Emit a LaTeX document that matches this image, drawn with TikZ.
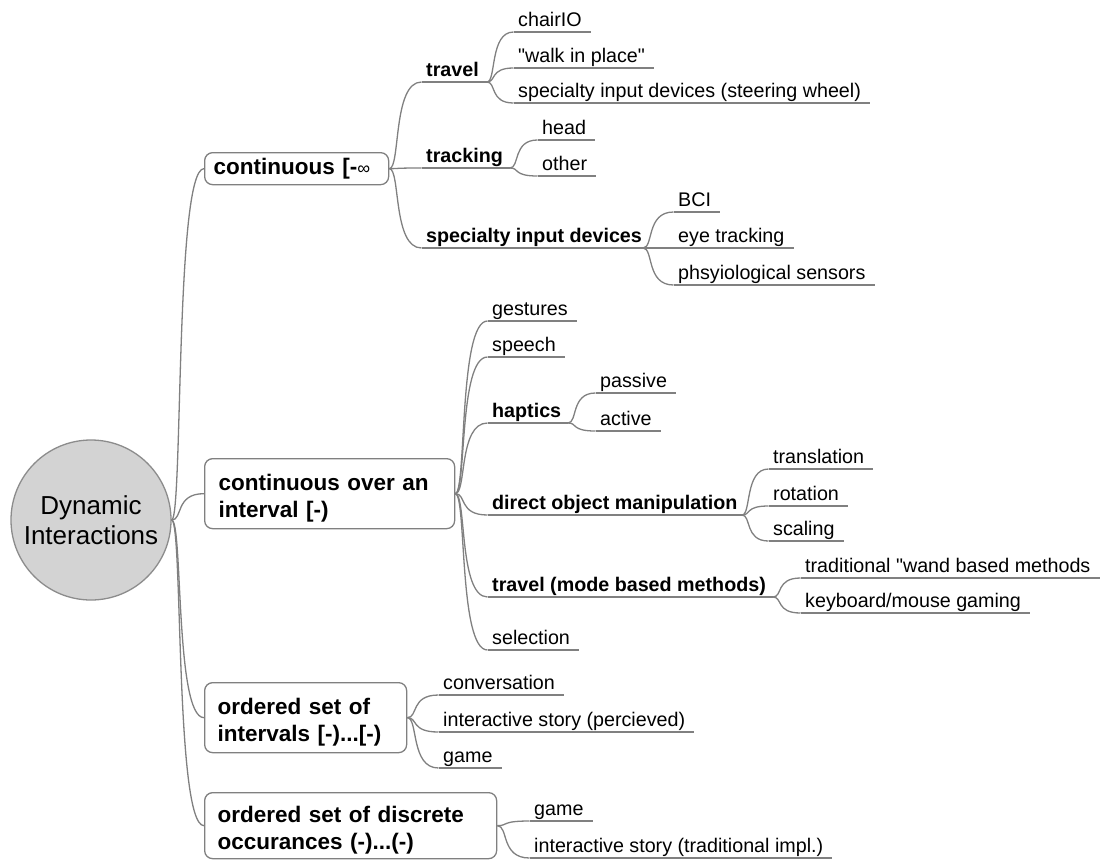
\documentclass[tikz,border=0pt]{standalone}
\usepackage{fontspec}
\setmainfont{Liberation Sans}[Ligatures=TeXOff]
\usetikzlibrary{calc}

\definecolor{linegray}{HTML}{808080}
\definecolor{rootfill}{HTML}{D3D3D3}
\definecolor{rootedge}{HTML}{8C8C8C}

\tikzset{
  link/.style={draw=linegray, line width=1.3pt},
  mmroot/.style={circle, draw=rootedge, line width=1.3pt, fill=rootfill,
    minimum size=160pt, inner sep=0pt, align=center,
    font=\fontsize{26}{30}\selectfont},
  mmbox/.style={draw=linegray, line width=1.3pt, rounded corners=8pt, fill=white,
    anchor=north west, align=left, inner ysep=0pt,
    font=\bfseries\fontsize{22.5}{27.5}\selectfont},
  twoline/.style={execute at begin node={\rule{0pt}{25pt}}},
  leaftext/.style={anchor=base west, inner sep=0pt, text=black,
    font=\fontsize{19.7}{23}\selectfont},
  parenttext/.style={leaftext, font=\bfseries\fontsize{19.7}{23}\selectfont},
}

% curved branch from one end point to the start of a child's underline
\newcommand\mmlink[2]{%
  \draw[link] (#1) .. controls ($(#1)!0.35!(#1 -| #2)$) and ($(#2 -| #1)!0.1!(#2)$) .. (#2);}

% leaf item: name, text x, underline y, text
\newcommand\mmleaf[4]{%
  \coordinate (#1S) at (#2-4.5,#3);
  \node[leaftext] (#1) at (#2,#3-6) {#4};
  \draw[link] (#1S) -- ($(#1S -| #1.east)+(9,0)$);}

% item with children: name, text x, underline y, branch x, text
\newcommand\mmparent[5]{%
  \coordinate (#1S) at (#2-4.5,#3);
  \coordinate (#1E) at (#4,#3);
  \node[parenttext] (#1) at (#2,#3-6) {#5};
  \draw[link] (#1S) -- (#1E);}

\begin{document}
\begin{tikzpicture}[x=1pt, y=-1pt]
\useasboundingbox (0,0) rectangle (1101,860);

% central topic
\node[mmroot] (root) at (91,520) {Dynamic\\Interactions};

% main branches
\node[mmbox, minimum width=184pt, minimum height=32pt, text width=166pt, inner xsep=9pt]
  (b1) at (204,152) {continuous [-{\mdseries\fontsize{18}{18}\selectfont ∞}};
\node[mmbox, twoline, minimum width=250pt, minimum height=70pt, text width=222pt, inner xsep=14pt]
  (b2) at (204,458) {continuous over an\\interval [-)};
\node[mmbox, twoline, minimum width=202pt, minimum height=70pt, text width=176pt, inner xsep=13pt]
  (b3) at (204,682) {ordered set of\\intervals [-)...[-)};
\node[mmbox, twoline, minimum width=292pt, minimum height=66pt, text width=266pt, inner xsep=13pt]
  (b4) at (204,792) {ordered set of discrete\\occurances (-)...(-)};

\mmlink{root.east}{b1.west}
\mmlink{root.east}{b2.west}
\mmlink{root.east}{b3.west}
\mmlink{root.east}{b4.west}

% continuous
\mmparent{trav}{426}{82}{487}{travel}
\mmparent{trk}{426}{168}{510}{tracking}
\mmparent{sid}{426}{248}{643}{specialty input devices}
\mmlink{b1.east}{travS}
\mmlink{b1.east}{trkS}
\mmlink{b1.east}{sidS}

\mmleaf{chair}{518}{32}{chairIO}
\mmleaf{walk}{518}{68}{"walk in place"}
\mmleaf{steer}{518}{103}{specialty input devices (steering wheel)}
\mmlink{travE}{chairS}
\mmlink{travE}{walkS}
\mmlink{travE}{steerS}

\mmleaf{head}{542}{140}{head}
\mmleaf{other}{542}{176}{other}
\mmlink{trkE}{headS}
\mmlink{trkE}{otherS}

\mmleaf{bci}{678}{212}{BCI}
\mmleaf{eye}{678}{248}{eye tracking}
\mmleaf{phys}{678}{285}{phsyiological sensors}
\mmlink{sidE}{bciS}
\mmlink{sidE}{eyeS}
\mmlink{sidE}{physS}

% continuous over an interval
\mmleaf{gest}{492}{321}{gestures}
\mmleaf{speech}{492}{357}{speech}
\mmparent{hap}{492}{423}{568}{haptics}
\mmparent{dom}{492}{515}{742}{direct object manipulation}
\mmparent{tmb}{492}{597}{773}{travel (mode based methods)}
\mmleaf{sel}{492}{650}{selection}
\mmlink{b2.east}{gestS}
\mmlink{b2.east}{speechS}
\mmlink{b2.east}{hapS}
\mmlink{b2.east}{domS}
\mmlink{b2.east}{tmbS}
\mmlink{b2.east}{selS}

\mmleaf{pas}{600}{393}{passive}
\mmleaf{act}{600}{431}{active}
\mmlink{hapE}{pasS}
\mmlink{hapE}{actS}

\mmleaf{transl}{773}{469}{translation}
\mmleaf{rot}{773}{506}{rotation}
\mmleaf{scal}{773}{541}{scaling}
\mmlink{domE}{translS}
\mmlink{domE}{rotS}
\mmlink{domE}{scalS}

\mmleaf{wand}{805}{578}{traditional "wand based methods}
\mmleaf{kbd}{805}{613}{keyboard/mouse gaming}
\mmlink{tmbE}{wandS}
\mmlink{tmbE}{kbdS}

% ordered set of intervals
\mmleaf{conv}{443}{695}{conversation}
\mmleaf{storyp}{443}{732}{interactive story (percieved)}
\mmleaf{gamea}{443}{768}{game}
\mmlink{b3.east}{convS}
\mmlink{b3.east}{storypS}
\mmlink{b3.east}{gameaS}

% ordered set of discrete occurances
\mmleaf{gameb}{534}{821}{game}
\mmleaf{storyt}{534}{858}{interactive story (traditional impl.)}
\mmlink{b4.east}{gamebS}
\mmlink{b4.east}{storytS}
\end{tikzpicture}
\end{document}
